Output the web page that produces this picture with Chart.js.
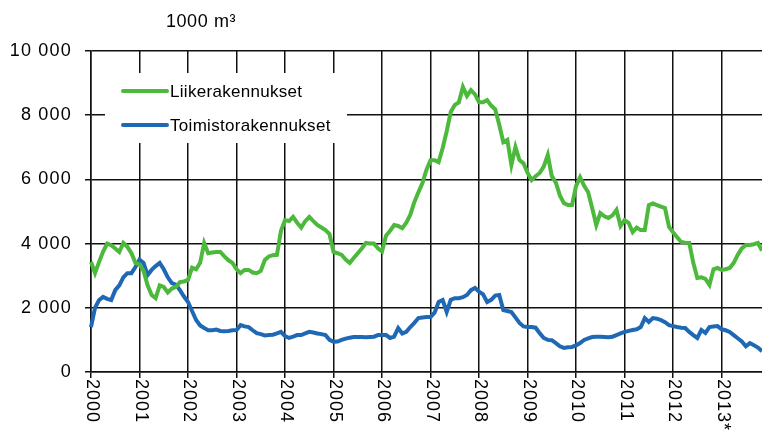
<!DOCTYPE html>
<html>
<head>
<meta charset="utf-8">
<script src="https://cdn.jsdelivr.net/npm/chart.js@4"></script>
<style>
  body { margin: 0; background: #fff; }
  #wrap { width: 762px; height: 435px; }
</style>
</head>
<body>
<div id="wrap"><canvas id="rakennusChart" width="762" height="435"></canvas></div>
<script>
// vuodet ja kuukausittaiset arvot (1000 m3), 2000/01 - 2013/11
var years = ['2000', '2001', '2002', '2003', '2004', '2005', '2006', '2007', '2008', '2009', '2010', '2011', '2012', '2013*'];
var yTicks = [0, 2000, 4000, 6000, 8000, 10000];

var liike = [
    3430, 3080, 3430, 3750, 4000, 3950, 3850, 3740, 4020, 3900, 3700, 3400,
    3350, 3150, 2700, 2400, 2300, 2700, 2650, 2480, 2600, 2650, 2800, 2820,
    2870, 3250, 3200, 3400, 4020, 3700, 3720, 3740, 3740, 3600, 3480, 3400,
    3200, 3080, 3180, 3180, 3100, 3080, 3150, 3490, 3600, 3640, 3650, 4400,
    4730, 4700, 4830, 4650, 4500, 4700, 4830, 4700, 4580, 4500, 4420, 4300,
    3740, 3700, 3650, 3500, 3400, 3550, 3700, 3850, 4020, 4000, 4000, 3850,
    3750, 4250, 4400, 4580, 4550, 4480, 4650, 4900, 5300, 5600, 5890, 6300,
    6600, 6600, 6540, 6980, 7500, 8100, 8320, 8400, 8880, 8600, 8780, 8650,
    8400, 8400, 8470, 8300, 8180, 7700, 7160, 7230, 6450, 7010, 6600, 6500,
    6200, 5980, 6100, 6200, 6400, 6760, 6100, 5900, 5500, 5260, 5200, 5200,
    5800, 6070, 5800, 5600, 5100, 4580, 4950, 4850, 4800, 4880, 5050, 4550,
    4730, 4650, 4360, 4500, 4420, 4420, 5200, 5250, 5200, 5150, 5110, 4520,
    4350, 4200, 4050, 4030, 4020, 3400, 2930, 2950, 2900, 2710, 3200, 3240,
    3180, 3200, 3240, 3400, 3650, 3850, 3960, 3960, 3980, 4020, 3780
];

var toimisto = [
    1400, 2000, 2240, 2340, 2280, 2240, 2550, 2700, 2950, 3080, 3080, 3270,
    3500, 3400, 3020, 3180, 3300, 3400, 3200, 2950, 2770, 2720, 2550, 2350,
    2180, 1900, 1620, 1450, 1370, 1300, 1300, 1320, 1280, 1270, 1280, 1300,
    1310, 1460, 1420, 1400, 1300, 1210, 1180, 1140, 1150, 1160, 1200, 1250,
    1120, 1060, 1100, 1150, 1150, 1200, 1250, 1230, 1200, 1180, 1150, 1000,
    940, 950, 1000, 1040, 1070, 1090, 1090, 1090, 1080, 1090, 1100, 1150,
    1150, 1150, 1060, 1100, 1370, 1200, 1250, 1400, 1530, 1680, 1700, 1710,
    1710, 1850, 2180, 2240, 1870, 2250, 2300, 2300, 2330, 2400, 2550, 2620,
    2500, 2420, 2180, 2250, 2380, 2400, 1930, 1900, 1870, 1700, 1530, 1420,
    1400, 1400, 1380, 1210, 1060, 1000, 990, 900, 800, 750, 770, 780,
    830, 900, 1000, 1050, 1090, 1100, 1100, 1090, 1080, 1100, 1150, 1200,
    1250, 1280, 1310, 1330, 1400, 1680, 1560, 1680, 1660, 1620, 1550, 1460,
    1430, 1400, 1380, 1370, 1250, 1150, 1060, 1310, 1220, 1400, 1420, 1430,
    1330, 1300, 1250, 1150, 1050, 950, 800, 900, 830, 760, 650
];

var monthLabels = liike.map(function (v, i) {
    return years[Math.floor(i / 12)] + '/' + (i % 12 + 1);
});

var green = '#4cb93c';
var blue = '#1f69b4';
var gridColor = '#111';
var fontFamily = '"Liberation Sans", Arial, sans-serif';

document.addEventListener('DOMContentLoaded', (event) => {
    Chart.defaults.font.family = fontFamily;
    Chart.defaults.color = '#000';

    // hieman harvempi kirjainvali akselien numeroille
    var spacing = {
        id: 'spacing',
        beforeDraw: function (chart) {
            chart.ctx.letterSpacing = '1.2px';
        }
    };

    // selite valkoisella pohjalla ruudukon paalla
    var legendBox = {
        id: 'legendBox',
        beforeDatasetsDraw: function (chart) {
            var ctx = chart.ctx;
            var a = chart.chartArea;
            ctx.save();
            ctx.letterSpacing = '0.3px';
            ctx.fillStyle = '#fff';
            ctx.fillRect(a.left + 14, 73, 242, 70);
            var items = [[green, 'Liikerakennukset', 91], [blue, 'Toimistorakennukset', 125]];
            items.forEach(function (it) {
                ctx.strokeStyle = it[0];
                ctx.lineWidth = 4;
                ctx.lineCap = 'round';
                ctx.beginPath();
                ctx.moveTo(a.left + 32, it[2]);
                ctx.lineTo(a.left + 76, it[2]);
                ctx.stroke();
                ctx.fillStyle = '#000';
                ctx.font = '17px ' + fontFamily;
                ctx.textAlign = 'left';
                ctx.textBaseline = 'middle';
                ctx.fillText(it[1], a.left + 79, it[2] + 1);
            });
            ctx.restore();
        }
    };

    // otsikko ja pystyyn kaannetyt vuosiotsakkeet
    var extraText = {
        id: 'extraText',
        afterDraw: function (chart) {
            var ctx = chart.ctx;
            var xs = chart.scales.x;
            ctx.save();
            ctx.fillStyle = '#000';
            ctx.font = '18px ' + fontFamily;
            ctx.letterSpacing = '0.6px';
            ctx.textAlign = 'center';
            ctx.textBaseline = 'middle';
            ctx.fillText('1000 m\u00b3', 201, 22);
            ctx.letterSpacing = '1px';
            years.forEach(function (y, i) {
                var x = xs.getPixelForValue(i * 12);
                ctx.save();
                ctx.translate(x + 1, 379);
                ctx.rotate(Math.PI / 2);
                ctx.textAlign = 'left';
                ctx.textBaseline = 'middle';
                ctx.fillText(y, 0, 0);
                ctx.restore();
            });
            ctx.restore();
        }
    };

    var ctx1 = document.getElementById('rakennusChart').getContext('2d');
    var rakennusChart = new Chart(ctx1, {
        type: 'line',
        data: {
            labels: monthLabels,
            datasets: [{
                label: 'Liikerakennukset',
                data: liike,
                borderColor: green,
                borderWidth: 4,
                pointRadius: 0,
                tension: 0,
                fill: false
            }, {
                label: 'Toimistorakennukset',
                data: toimisto,
                borderColor: blue,
                borderWidth: 4,
                pointRadius: 0,
                tension: 0,
                fill: false
            }]
        },
        options: {
            responsive: false,
            animation: false,
            layout: { padding: { top: 51, left: 0, right: 0, bottom: 0 } },
            plugins: {
                legend: { display: false },
                tooltip: { enabled: false }
            },
            scales: {
                x: {
                    type: 'category',
                    offset: false,
                    ticks: { display: false, autoSkip: false },
                    grid: {
                        color: function (c) { return c.index % 12 === 0 ? gridColor : 'rgba(0,0,0,0)'; },
                        tickColor: function (c) { return c.index % 12 === 0 ? gridColor : 'rgba(0,0,0,0)'; },
                        tickLength: 6,
                        lineWidth: 1.5
                    },
                    border: { color: gridColor, width: 1.5 },
                    afterFit: function (scale) { scale.height = 63; }
                },
                y: {
                    min: yTicks[0],
                    max: yTicks[yTicks.length - 1],
                    afterBuildTicks: function (scale) {
                        scale.ticks = yTicks.map(function (v) { return { value: v }; });
                    },
                    ticks: {
                        padding: 13,
                        font: { size: 18 },
                        color: '#000',
                        callback: function (value) {
                            return String(value).replace(/\B(?=(\d{3})+(?!\d))/g, ' ');
                        }
                    },
                    grid: { color: gridColor, tickLength: 6, lineWidth: 1.5 },
                    border: { color: gridColor, width: 1.5 },
                    afterFit: function (scale) { scale.width = 91; }
                }
            }
        },
        plugins: [spacing, legendBox, extraText]
    });
});
</script>
</body>
</html>
